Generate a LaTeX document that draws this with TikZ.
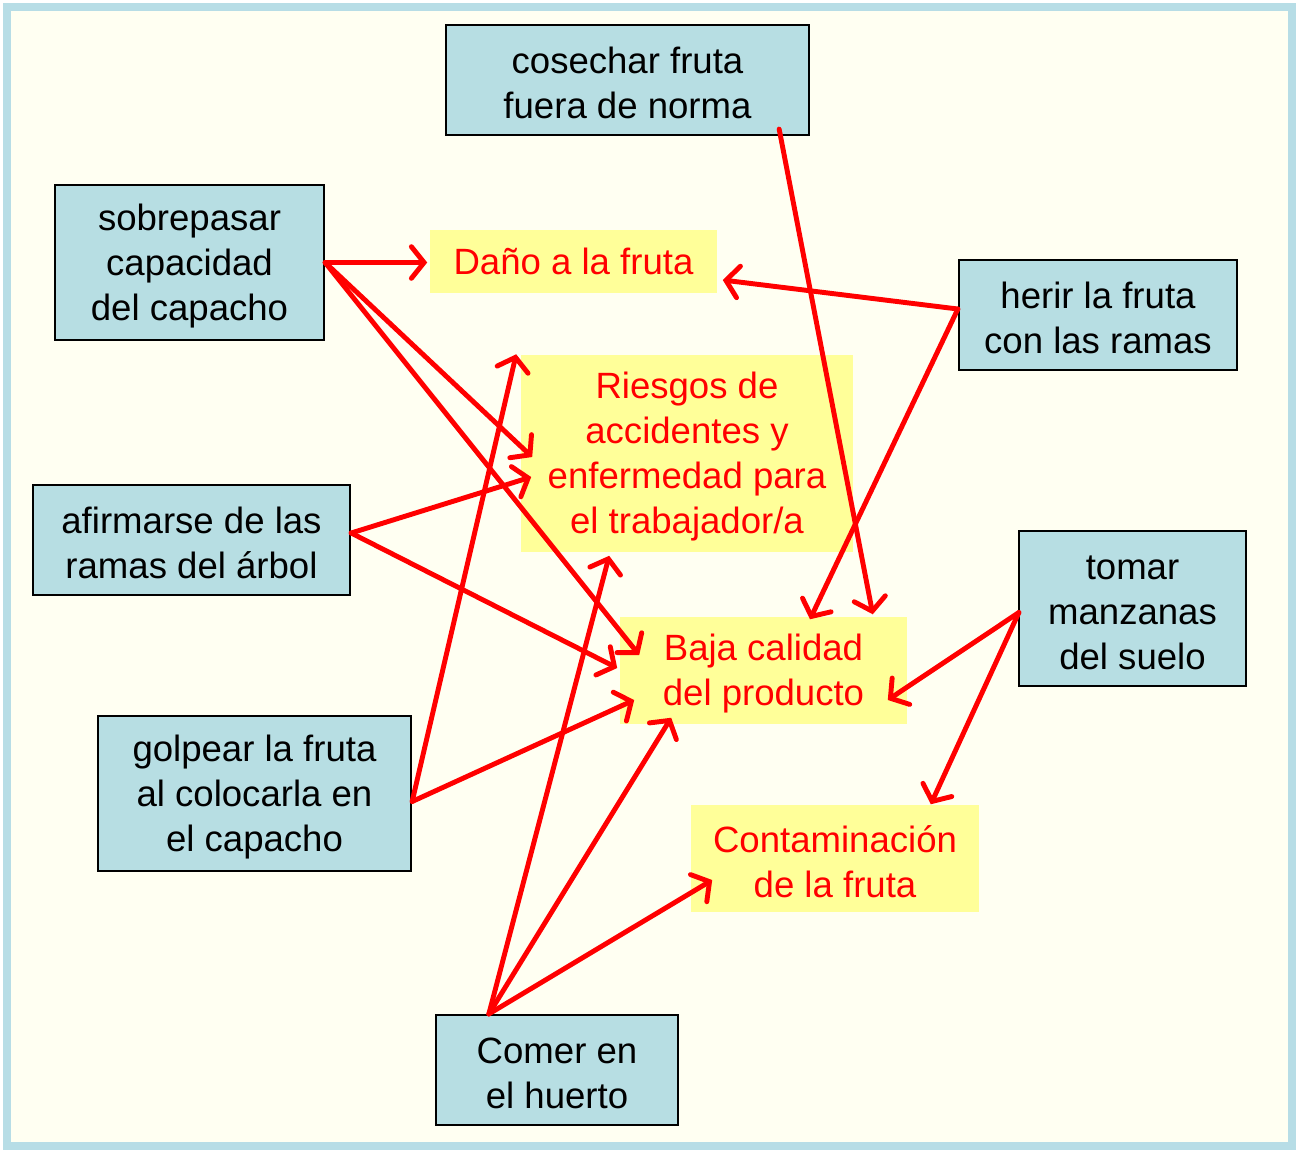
\documentclass[tikz,border=0pt]{standalone}
\usepackage{fontspec}
\setmainfont{Liberation Sans}
\usepackage{tikz}
\usetikzlibrary{arrows.meta,calc}
\definecolor{frameblue}{RGB}{183,221,230}
\definecolor{boxblue}{RGB}{183,222,227}
\definecolor{paleyellow}{RGB}{255,255,153}
\definecolor{cream}{RGB}{255,255,242}
\definecolor{arrred}{RGB}{255,0,0}
\tikzset{
    cause/.style={draw=black, line width=0.6pt, fill=boxblue, align=center, inner sep=0pt},
    effect/.style={fill=paleyellow, text=arrred, align=center, inner sep=0pt},
    nlines/.style={text height={9.3pt+(#1-1)*12.8pt}},
    arr/.style={draw=arrred, line width=1.4pt, line cap=round,
        -{Straight Barb[length=3.6pt,width=9pt,line cap=round]}}
}

\begin{document}
\begin{tikzpicture}[x=0.01cm, y=-0.01cm, font=\fontsize{10.4}{12.8}\selectfont]
        \useasboundingbox (0,0) rectangle (1299,1153);
        % Frame
        \draw[draw=frameblue, fill=cream, line width=0.08cm] (7,7) rectangle (1292,1146);

        % Causes
        \node[cause, nlines=2, minimum width=3.63cm, minimum height=1.10cm] (cosechar) at (627.5,80) {cosechar fruta\\fuera de norma};
        \node[cause, nlines=3, minimum width=2.69cm, minimum height=1.55cm] (sobre) at (189.5,262.5) {sobrepasar\\capacidad\\del capacho};
        \node[cause, nlines=2, minimum width=2.78cm, minimum height=1.10cm] (herir) at (1098,315) {herir la fruta\\con las ramas};
        \node[cause, nlines=2, minimum width=3.17cm, minimum height=1.10cm] (afirm) at (191.5,540) {afirmarse de las\\ramas del árbol};
        \node[cause, nlines=3, minimum width=2.27cm, minimum height=1.55cm] (tomar) at (1132.5,608.5) {tomar\\manzanas\\del suelo};
        \node[cause, nlines=3, minimum width=3.13cm, minimum height=1.55cm] (golpe) at (254.5,793.5) {golpear la fruta\\al colocarla en\\el capacho};
        \node[cause, nlines=2, minimum width=2.42cm, minimum height=1.10cm] (comer) at (557,1070) {Comer en\\el huerto};

        % Effects
        \node[effect, minimum width=2.87cm, minimum height=0.63cm] (dano) at (573.5,261.5) {Daño a la fruta};
        \node[effect, nlines=4, minimum width=3.32cm, minimum height=1.97cm] (ries) at (687,453.5) {Riesgos de\\accidentes y\\enfermedad para\\el trabajador/a};
        \node[effect, nlines=2, minimum width=2.87cm, minimum height=1.07cm] (baja) at (763.5,670.5) {Baja calidad\\del producto};
        \node[effect, nlines=2, minimum width=2.88cm, minimum height=1.07cm] (cont) at (835,858.5) {Contaminación\\de la fruta};

        % Arrows
        \draw[arr] (sobre.east) -- ($(dano.west)+(-2,1)$);
        \draw[arr] (sobre.east) -- ($(ries.west)+(12,3.5)$);
        \draw[arr] (sobre.east) -- ($(baja.west)+(20,-15.5)$);
        \draw[arr] ($(cosechar.south east)+(-31,-7)$) -- ($(baja.north east)+(-35,-2)$);
        \draw[arr] ($(herir.west)+(0,-6)$) -- ($(dano.east)+(5,18.5)$);
        \draw[arr] ($(herir.west)+(0,-6)$) -- ($(baja.north)+(46.5,3)$);
        \draw[arr] ($(afirm.east)+(0,-7)$) -- ($(ries.west)+(11,23.5)$);
        \draw[arr] ($(afirm.east)+(0,-7)$) -- ($(baja.west)+(-2,-2.5)$);
        \draw[arr] ($(golpe.east)+(0,8)$) -- ($(ries.north west)+(-4,0)$);
        \draw[arr] ($(golpe.east)+(0,8)$) -- ($(baja.west)+(15,29.5)$);
        \draw[arr] ($(tomar.west)+(1,4)$) -- ($(baja.east)+(-20,29.5)$);
        \draw[arr] ($(tomar.west)+(1,4)$) -- ($(cont.north east)+(-49,0)$);
        \draw[arr] ($(comer.north west)+(54,0)$) -- ($(ries.south west)+(89,3)$);
        \draw[arr] ($(comer.north west)+(54,0)$) -- ($(baja.south west)+(52,-7)$);
        \draw[arr] ($(comer.north west)+(54,0)$) -- ($(cont.west)+(22,21.5)$);
\end{tikzpicture}
\end{document}
